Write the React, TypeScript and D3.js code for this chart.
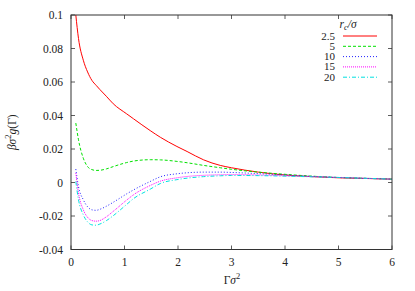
import React from "react";
import * as d3 from "d3";

const xTicks = [0, 1, 2, 3, 4, 5, 6];
const yTicks = [-0.04, -0.02, 0, 0.02, 0.04, 0.06, 0.08, 0.1];
const yTickLabels = ["-0.04", "-0.02", "0", "0.02", "0.04", "0.06", "0.08", "0.1"];

const gammaX = [0.09, 0.14, 0.23, 0.31, 0.39, 0.47, 0.54, 0.66, 0.79, 1.04, 1.17, 1.48, 1.67, 1.98, 2.17, 2.48, 2.79, 3.0, 3.5, 4.0, 4.5, 5.0, 5.5, 6.0];

const red25 = [0.1, 0.086, 0.073, 0.066, 0.061, 0.058, 0.0555, 0.0515, 0.047, 0.041, 0.038, 0.031, 0.027, 0.0215, 0.0185, 0.0135, 0.0102, 0.0088, 0.0062, 0.0045, 0.0035, 0.0028, 0.0024, 0.002];
const green5 = [0.0355, 0.0255, 0.0145, 0.0095, 0.0077, 0.0072, 0.0073, 0.0081, 0.0095, 0.0119, 0.0128, 0.0136, 0.0135, 0.0126, 0.0118, 0.0102, 0.0088, 0.0079, 0.0062, 0.0049, 0.0038, 0.003, 0.0025, 0.002];
const blue10 = [0.008, -0.0024, -0.0103, -0.0145, -0.0163, -0.0166, -0.016, -0.0142, -0.0118, -0.0068, -0.0044, 0.0006, 0.0034, 0.0052, 0.0058, 0.0062, 0.0062, 0.006, 0.0053, 0.0045, 0.0037, 0.003, 0.0025, 0.002];
const magenta15 = [0.0056, -0.0063, -0.0163, -0.0208, -0.0227, -0.0231, -0.0227, -0.0205, -0.0172, -0.0105, -0.0073, -0.0018, 0.0008, 0.0028, 0.0036, 0.0043, 0.0046, 0.0047, 0.0045, 0.004, 0.0035, 0.003, 0.0025, 0.002];
const cyan20 = [0.0006, -0.0103, -0.0193, -0.0235, -0.0253, -0.0255, -0.0248, -0.0228, -0.0198, -0.0131, -0.0096, -0.004, -0.0006, 0.0017, 0.0026, 0.0035, 0.004, 0.0042, 0.0041, 0.0038, 0.0034, 0.003, 0.0025, 0.002];

const seriesNames = ["2.5", "5", "10", "15", "20"];
const seriesData = [red25, green5, blue10, magenta15, cyan20];
const seriesColors = ["#ff0000", "#00e000", "#2020ff", "#ff00ff", "#00e0e0"];
const seriesDash = ["none", "3,2", "1,2", "1,1", "4,2,1,2"];

const W = 415;
const H = 291;
const left = 71;
const right = 392;
const top = 15;
const bottom = 249.5;
const font = "Liberation Serif, DejaVu Serif, Times New Roman, serif";
const fs = 11.5;

export default function App() {
  const x = d3.scaleLinear().domain([0, 6]).range([left, right]);
  const y = d3.scaleLinear().domain([-0.04, 0.1]).range([bottom, top]);
  const line = d3
    .line<number>()
    .x((_, i) => x(gammaX[i]))
    .y((d) => y(d))
    .curve(d3.curveMonotoneX);

  const legendY0 = 36;
  const legendDy = 10.3;
  const ts: React.CSSProperties = { fontFamily: font };

  return (
    <svg
      width={W}
      height={H}
      style={{ position: "absolute", left: 0, top: 0, background: "#fff", fontFamily: font }}
    >
      <defs>
        <clipPath id="plotclip">
          <rect x={left} y={top} width={right - left} height={bottom - top} />
        </clipPath>
      </defs>
      {xTicks.map((t) => (
        <g key={"x" + t}>
          <line x1={x(t)} x2={x(t)} y1={bottom} y2={bottom - 4} stroke="#333" strokeWidth={0.8} />
          <line x1={x(t)} x2={x(t)} y1={top} y2={top + 4} stroke="#333" strokeWidth={0.8} />
          <text x={x(t)} y={bottom + 16} fontSize={fs} textAnchor="middle" fill="#222" style={ts}>
            {t}
          </text>
        </g>
      ))}
      {yTicks.map((t, i) => (
        <g key={"y" + i}>
          <line x1={left} x2={left + 4} y1={y(t)} y2={y(t)} stroke="#333" strokeWidth={0.8} />
          <line x1={right} x2={right - 4} y1={y(t)} y2={y(t)} stroke="#333" strokeWidth={0.8} />
          <text x={left - 8} y={y(t) + 4} fontSize={fs} textAnchor="end" fill="#222" style={ts}>
            {yTickLabels[i]}
          </text>
        </g>
      ))}
      <g clipPath="url(#plotclip)">
        {seriesData.map((s, i) => (
          <path
            key={"s" + i}
            d={line(s) || ""}
            fill="none"
            stroke={seriesColors[i]}
            strokeWidth={1}
            strokeDasharray={seriesDash[i]}
          />
        ))}
      </g>
      <rect x={left} y={top} width={right - left} height={bottom - top} fill="none" stroke="#333" strokeWidth={1} />
      <text x={348} y={28} fontSize={fs} textAnchor="middle" fill="#222" fontStyle="italic" style={ts}>
        r<tspan fontSize={8.5} dy={2}>c</tspan>
        <tspan dy={-2}>/σ</tspan>
      </text>
      {seriesNames.map((n, i) => (
        <g key={"l" + i}>
          <text x={335} y={legendY0 + i * legendDy + 3.5} fontSize={11} textAnchor="end" fill="#222" style={ts}>
            {n}
          </text>
          <line
            x1={343}
            x2={377}
            y1={legendY0 + i * legendDy}
            y2={legendY0 + i * legendDy}
            stroke={seriesColors[i]}
            strokeWidth={1}
            strokeDasharray={seriesDash[i]}
          />
        </g>
      ))}
      <text x={232} y={284} fontSize={fs} textAnchor="middle" fill="#222" style={ts}>
        Γ<tspan fontStyle="italic">σ</tspan>
        <tspan fontSize={8.5} dy={-5}>2</tspan>
      </text>
      <text
        transform={`translate(16, ${(top + bottom) / 2}) rotate(-90)`}
        fontSize={fs}
        textAnchor="middle"
        fill="#222"
        style={ts}
      >
        <tspan fontStyle="italic">βσ</tspan>
        <tspan fontSize={8.5} dy={-5}>2</tspan>
        <tspan dy={5} fontStyle="italic">g</tspan>(Γ)
      </text>
    </svg>
  );
}
